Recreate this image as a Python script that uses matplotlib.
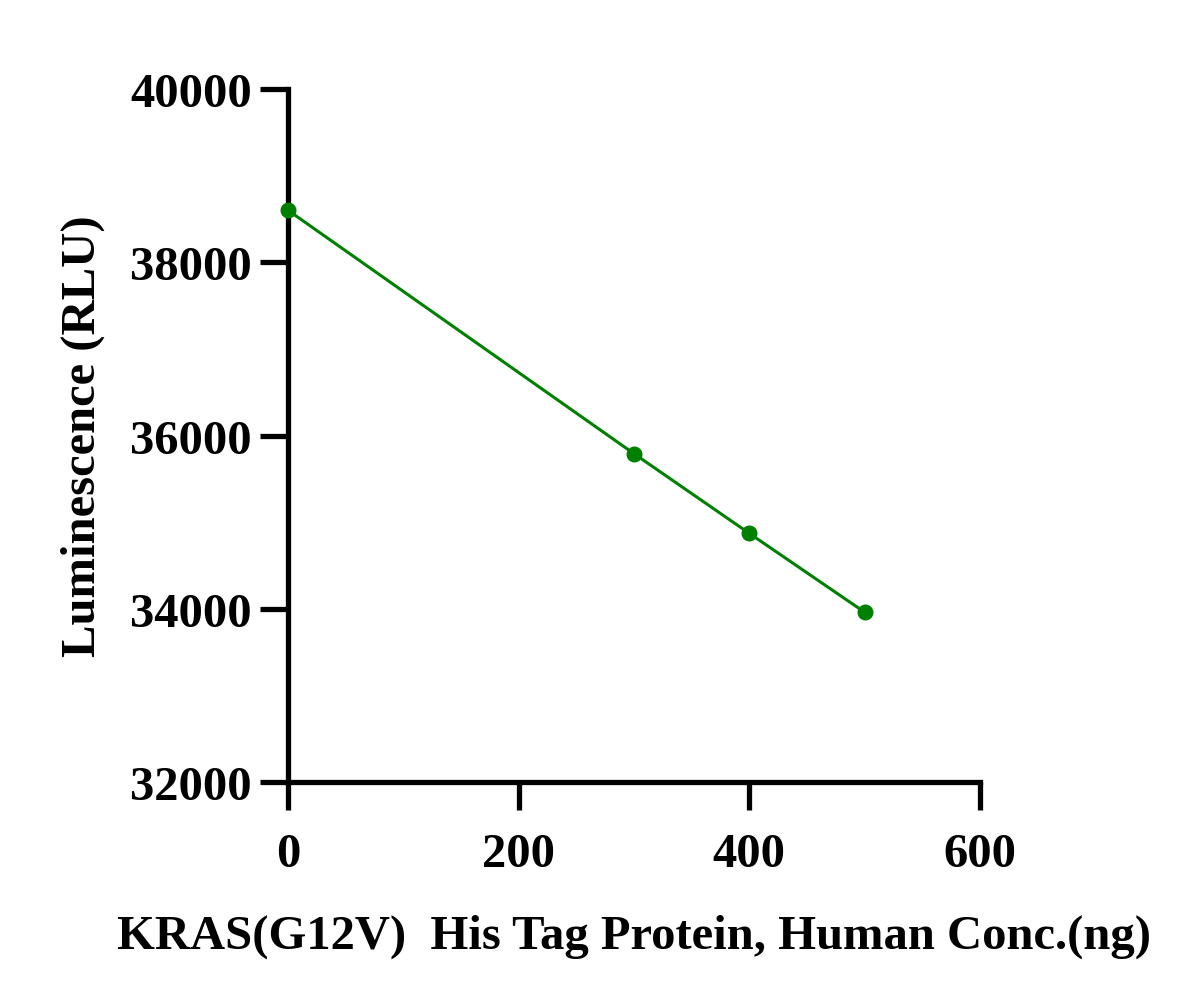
import matplotlib
matplotlib.use('Agg')
import matplotlib.pyplot as plt

conc = [0, 300, 400, 500]
lum = [38600, 35790, 34870, 33960]
x_ticks = [0, 200, 400, 600]
y_ticks = [32000, 34000, 36000, 38000, 40000]

plt.rcParams['font.family'] = ['Liberation Serif', 'DejaVu Serif']
plt.rcParams['font.weight'] = 'bold'

fig = plt.figure(figsize=(12, 10.03), dpi=100)
ax = fig.add_axes([0.24, 0.2193, 0.5767, 0.691])

ax.plot(conc, lum, color='#008000', linewidth=2.2, marker='o', markersize=10.5,
        clip_on=False, zorder=5)

ax.set_xlim(0, 600)
ax.set_ylim(32000, 40000)
ax.set_xticks(x_ticks)
ax.set_yticks(y_ticks)
ax.set_xticklabels([str(v) for v in x_ticks], fontsize=35, fontweight='bold')
ax.set_yticklabels([str(v) for v in y_ticks], fontsize=35, fontweight='bold')

for side in ['top', 'right']:
    ax.spines[side].set_visible(False)
for side in ['left', 'bottom']:
    ax.spines[side].set_linewidth(3.8)
    ax.spines[side].set_capstyle('projecting')

ax.tick_params(axis='both', direction='out', length=20, width=3.8)
ax.tick_params(axis='x', pad=16)
ax.tick_params(axis='y', pad=6)

ax.set_xlabel('KRAS(G12V)  His Tag Protein, Human Conc.(ng)', fontsize=35,
              fontweight='bold', labelpad=27)
ax.set_ylabel('Luminescence (RLU)', fontsize=35, fontweight='bold', labelpad=18)

fig.savefig('out.png', dpi=100)
